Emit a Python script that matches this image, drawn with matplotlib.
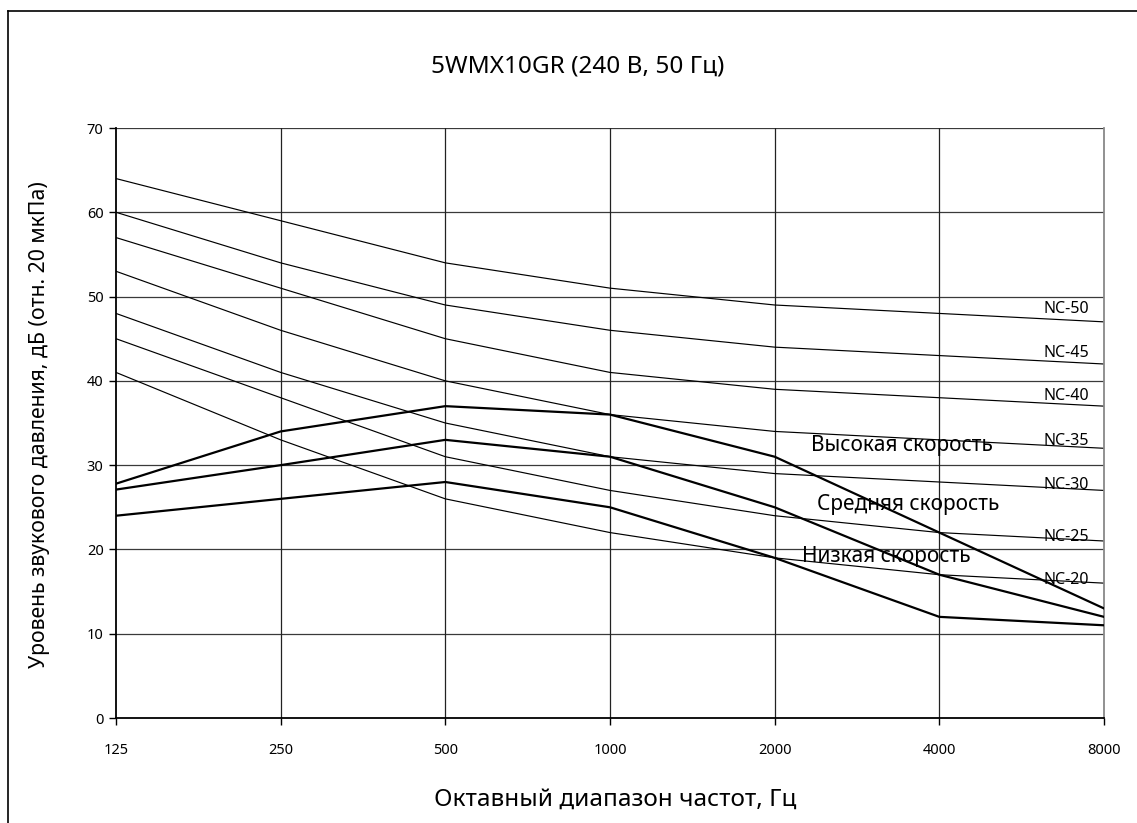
import matplotlib
matplotlib.use("Agg")
import matplotlib.pyplot as plt
from matplotlib.lines import Line2D

plt.rcParams['font.family'] = ['Noto Sans', 'DejaVu Sans']

freqs = ["125", "250", "500", "1000", "2000", "4000", "8000"]

nc50 = [64, 59, 54, 51, 49, 48, 47]
nc45 = [60, 54, 49, 46, 44, 43, 42]
nc40 = [57, 51, 45, 41, 39, 38, 37]
nc35 = [53, 46, 40, 36, 34, 33, 32]
nc30 = [48, 41, 35, 31, 29, 28, 27]
nc25 = [45, 38, 31, 27, 24, 22, 21]
nc20 = [41, 33, 26, 22, 19, 17, 16]
nc_names = ["NC-50", "NC-45", "NC-40", "NC-35", "NC-30", "NC-25", "NC-20"]
nc_label_y = [48.5, 43.3, 38.2, 32.9, 27.6, 21.5, 16.4]

high_speed = [27.8, 34, 37, 36, 31, 22, 13]
mid_speed = [27.1, 30, 33, 31, 25, 17, 12]
low_speed = [24, 26, 28, 25, 19, 12, 11]
speed_names = ["Высокая скорость", "Средняя скорость", "Низкая скорость"]
speed_label_pos = [(4.77, 32.3), (4.81, 25.3), (4.68, 19.2)]

title = "5WMX10GR (240 В, 50 Гц)"
ylabel = "Уровень звукового давления, дБ (отн. 20 мкПа)"
xlabel = "Октавный диапазон частот, Гц"

W, H = 1137, 823
fig = plt.figure(figsize=(W / 100, H / 100), dpi=100)
ax = fig.add_axes([116 / W, 1 - 718 / H, (1104 - 116) / W, (718 - 128) / H])

x = list(range(len(freqs)))

# grid
for yv in range(10, 71, 10):
    ax.axhline(yv, color='#3a3a3a', lw=0.9, zorder=1)
for xv in x[1:-1]:
    ax.axvline(xv, color='#222222', lw=0.9, zorder=1)

for series in [nc50, nc45, nc40, nc35, nc30, nc25, nc20]:
    ax.plot(x, series, color='black', lw=0.85, zorder=2)
for series in [high_speed, mid_speed, low_speed]:
    ax.plot(x, series, color='black', lw=1.6, zorder=3)

for name, yv in zip(nc_names, nc_label_y):
    ax.text(5.77, yv, name, ha='center', va='center', fontsize=11.5, zorder=4)
for name, (px, py) in zip(speed_names, speed_label_pos):
    ax.text(px, py, name, ha='center', va='center', fontsize=15, zorder=4)

ax.set_xlim(0, 6)
ax.set_ylim(0, 70)
ax.set_xticks(x)
ax.set_xticklabels(freqs)
ax.set_yticks(range(0, 71, 10))
ax.tick_params(axis='x', length=5, width=1, pad=13, labelsize=10.5, direction='out')
ax.tick_params(axis='y', length=5, width=1, pad=4, labelsize=10.5, direction='out')

for s in ['left', 'bottom']:
    ax.spines[s].set_linewidth(1.3)
    ax.spines[s].set_color('black')
ax.spines['top'].set_visible(False)
ax.spines['right'].set_color('#888888')
ax.spines['right'].set_linewidth(1.3)

fig.text(578 / W, 1 - 67 / H, title, ha='center', va='center', fontsize=17.5)
fig.text(40 / W, 1 - 425 / H, ylabel, ha='center', va='center', rotation=90, fontsize=15.3)
fig.text(615 / W, 1 - 800 / H, xlabel, ha='center', va='center', fontsize=17.5)

# outer frame (left and top only visible)
fig.add_artist(Line2D([7.5 / W, 7.5 / W], [0, 1 - 11 / H], transform=fig.transFigure, color='black', lw=1.2))
fig.add_artist(Line2D([7.5 / W, 1], [1 - 11 / H, 1 - 11 / H], transform=fig.transFigure, color='black', lw=1.2))

fig.savefig("out.png", dpi=100)
